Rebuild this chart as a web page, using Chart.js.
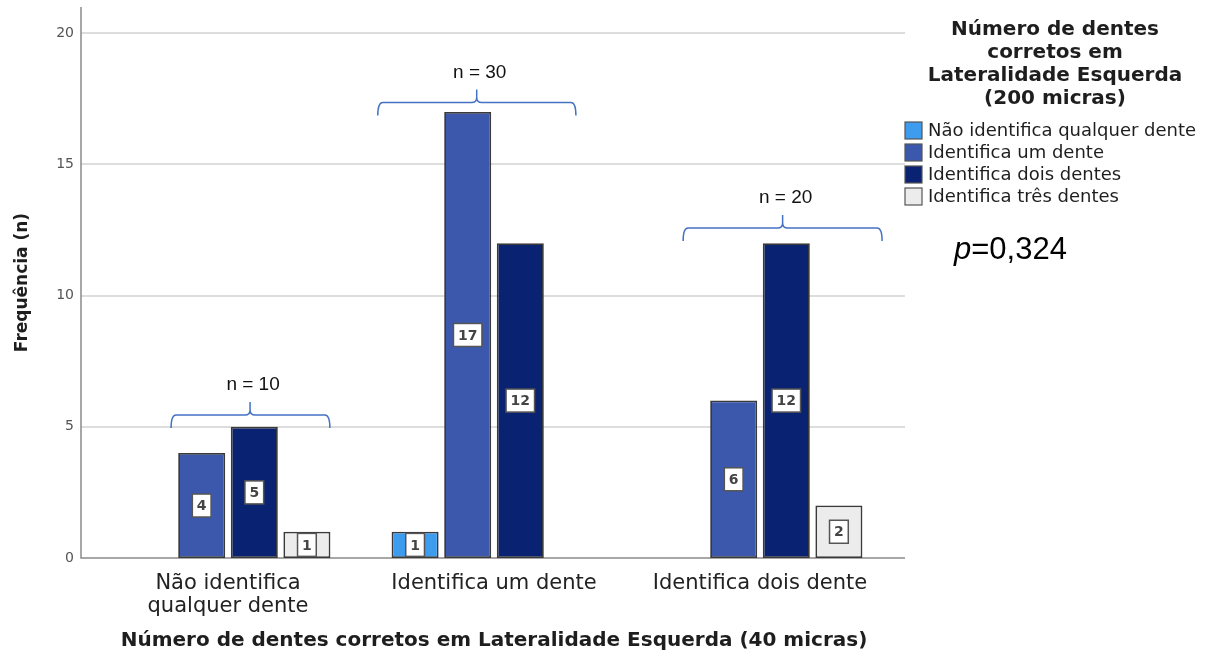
<!DOCTYPE html>
<html>
<head>
<meta charset="utf-8">
<script src="https://cdn.jsdelivr.net/npm/chart.js@4/dist/chart.umd.min.js"></script>
<style>
  html, body { margin: 0; padding: 0; background: #ffffff; }
  #wrap { position: relative; width: 1207px; height: 660px; }
</style>
</head>
<body>
<div id="wrap"><canvas id="c"></canvas></div>
<script>
// ---- data ----
const categories = [['Não identifica', 'qualquer dente'], 'Identifica um dente', 'Identifica dois dente'];
const seriesLabels = ['Não identifica qualquer dente', 'Identifica um dente', 'Identifica dois dentes', 'Identifica três dentes'];
const naoIdentifica = [null, 1, null];
const identificaUm = [4, 17, 6];
const identificaDois = [5, 12, 12];
const identificaTres = [1, null, 2];
const yTicks = [0, 5, 10, 15, 20];
const xTitle = 'Número de dentes corretos em Lateralidade Esquerda (40 micras)';
const yTitle = 'Frequência (n)';
const legendTitle = ['Número de dentes', 'corretos em', 'Lateralidade Esquerda', '(200 micras)'];
const pValueText = '=0,324';

// ---- styling ----
const colors = ['#3d9cee', '#3b58ad', '#0a2272', '#ececec'];
// bracket annotations: start / tip / end as fraction of category width from category centre, level in y units
const bracketStyle = [
  { from: -0.214, tip: 0.083, to: 0.383, level: 5.45 },
  { from: -0.437, tip: -0.065, to: 0.308, level: 17.36 },
  { from: -0.289, tip: 0.085, to: 0.459, level: 12.58 }
];

const allSeries = [naoIdentifica, identificaUm, identificaDois, identificaTres];
const totals = categories.map((_, i) => allSeries.reduce((s, arr) => s + (arr[i] || 0), 0));

const FONT = "'DejaVu Sans', sans-serif";

const decorPlugin = {
  id: 'decor',
  beforeDatasetsDraw(chart) {
    const { ctx, chartArea, scales } = chart;
    const y = scales.y;
    const left = chartArea.left - 14;
    const right = chartArea.right + 12;
    ctx.save();
    ctx.strokeStyle = '#dddddd';
    ctx.lineWidth = 2;
    yTicks.forEach(t => {
      if (t === 0) return;
      const py = Math.round(y.getPixelForValue(t));
      ctx.beginPath(); ctx.moveTo(left, py); ctx.lineTo(right, py); ctx.stroke();
    });
    ctx.strokeStyle = '#8a8a8a';
    ctx.lineWidth = 1.5;
    const py0 = y.getPixelForValue(0);
    ctx.beginPath(); ctx.moveTo(left, chartArea.top); ctx.lineTo(left, py0); ctx.lineTo(right, py0); ctx.stroke();
    ctx.restore();
  },
  afterDatasetsDraw(chart) {
    const { ctx, scales } = chart;
    ctx.save();
    ctx.font = "bold 14px " + FONT;
    ctx.textAlign = 'center';
    ctx.textBaseline = 'middle';
    chart.data.datasets.forEach((ds, di) => {
      const meta = chart.getDatasetMeta(di);
      meta.data.forEach((bar, i) => {
        const v = ds.data[i];
        if (v === null || v === undefined) return;
        const cx = bar.x;
        const cy = (bar.y + bar.base) / 2;
        const txt = String(v);
        const w = ctx.measureText(txt).width + 9;
        const h = 23;
        ctx.fillStyle = '#ffffff';
        ctx.fillRect(cx - w / 2, cy - h / 2, w, h);
        ctx.strokeStyle = '#555555';
        ctx.lineWidth = 1.5;
        ctx.strokeRect(cx - w / 2, cy - h / 2, w, h);
        ctx.fillStyle = '#444444';
        ctx.fillText(txt, cx, cy + 1);
      });
    });
    const x = scales.x, y = scales.y;
    const cw = x.getPixelForValue(1) - x.getPixelForValue(0);
    ctx.strokeStyle = '#4472c4';
    ctx.lineWidth = 1.5;
    bracketStyle.forEach((b, i) => {
      const c = x.getPixelForValue(i);
      const x1 = c + b.from * cw, xm = c + b.tip * cw, x2 = c + b.to * cw;
      const yh = y.getPixelForValue(b.level);
      const r = 5, d = 13;
      ctx.beginPath();
      ctx.moveTo(x1, yh + d);
      ctx.quadraticCurveTo(x1, yh, x1 + r, yh);
      ctx.lineTo(xm - r, yh);
      ctx.quadraticCurveTo(xm, yh, xm, yh - r);
      ctx.lineTo(xm, yh - d);
      ctx.moveTo(xm, yh - r);
      ctx.quadraticCurveTo(xm, yh, xm + r, yh);
      ctx.lineTo(x2 - r, yh);
      ctx.quadraticCurveTo(x2, yh, x2, yh + d);
      ctx.stroke();
      ctx.fillStyle = '#111111';
      ctx.font = "19px 'Liberation Sans', Arial, sans-serif";
      ctx.textAlign = 'center';
      ctx.textBaseline = 'middle';
      ctx.fillText('n = ' + totals[i], xm + 3, yh - 30);
    });
    ctx.restore();
  },
  afterDraw(chart) {
    const { ctx } = chart;
    ctx.save();
    ctx.fillStyle = '#1e1e1e';
    ctx.font = "bold 20px " + FONT;
    ctx.textAlign = 'center';
    ctx.textBaseline = 'middle';
    legendTitle.forEach((line, i) => ctx.fillText(line, 1055, 30 + i * 23));
    ctx.font = "18px " + FONT;
    ctx.textAlign = 'left';
    chart.data.datasets.forEach((ds, i) => {
      const yc = 131 + i * 22;
      ctx.fillStyle = ds.backgroundColor;
      ctx.fillRect(905, yc - 9, 17, 17);
      ctx.strokeStyle = '#555555';
      ctx.lineWidth = 1.2;
      ctx.strokeRect(905, yc - 9, 17, 17);
      ctx.fillStyle = '#1e1e1e';
      ctx.fillText(ds.label, 928, yc);
    });
    ctx.textBaseline = 'alphabetic';
    ctx.fillStyle = '#000000';
    ctx.font = "italic 31px 'Liberation Sans', Arial, sans-serif";
    ctx.fillText('p', 954, 259);
    const pw = ctx.measureText('p').width;
    ctx.font = "31px 'Liberation Sans', Arial, sans-serif";
    ctx.fillText(pValueText, 954 + pw, 259);
    ctx.restore();
  }
};

new Chart(document.getElementById('c'), {
  type: 'bar',
  data: {
    labels: categories,
    datasets: allSeries.map((arr, i) => ({
      label: seriesLabels[i],
      data: arr,
      backgroundColor: colors[i],
      borderColor: '#3a3a3a',
      borderWidth: 1.8,
      borderSkipped: false,
      barPercentage: 0.894,
      categoryPercentage: 0.791
    }))
  },
  options: {
    responsive: true,
    maintainAspectRatio: false,
    animation: false,
    layout: { padding: { top: 7, right: 314, bottom: 0, left: 0 } },
    plugins: { legend: { display: false }, tooltip: { enabled: false } },
    scales: {
      x: {
        grid: { display: false },
        border: { display: false },
        ticks: { color: '#222222', font: { family: FONT, size: 21, lineHeight: 1.1 }, padding: 6, maxRotation: 0, autoSkip: false },
        title: { display: true, text: xTitle, color: '#1e1e1e', font: { family: FONT, size: 20, weight: 'bold' }, padding: { top: 0, bottom: 7 } },
        afterFit(s) { s.height = 102; }
      },
      y: {
        min: 0,
        max: 21,
        grid: { display: false },
        border: { display: false },
        afterBuildTicks(s) { s.ticks = yTicks.map(v => ({ value: v })); },
        ticks: { color: '#555555', font: { family: FONT, size: 14 }, padding: 13 },
        title: { display: true, text: yTitle, color: '#1e1e1e', font: { family: FONT, size: 17, weight: 'bold' }, padding: { top: 12, bottom: 0 } },
        afterFit(s) { s.width = 95; s.paddingTop = 0; s.paddingBottom = 0; }
      }
    }
  },
  plugins: [decorPlugin]
});
</script>
</body>
</html>
